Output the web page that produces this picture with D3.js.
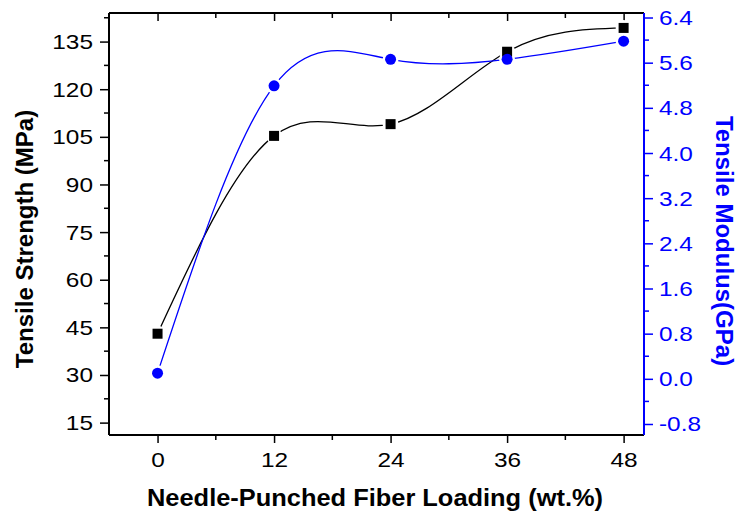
<!DOCTYPE html>
<html>
<head>
<meta charset="utf-8">
<script src="https://cdn.jsdelivr.net/npm/d3@7"></script>
<style>
body { margin: 0; background: #fff; }
svg { display: block; font-family: "Liberation Sans", Arial, sans-serif; }
</style>
</head>
<body>
<div id="chart"></div>
<script>
// fiber loading (wt.%)
var loading = [0, 12, 24, 36, 48];
// tensile strength (MPa), left axis
var strength = [43, 105.3, 109, 131.8, 139.3];
// tensile modulus (GPa), right axis
var modulus = [0.1, 5.19, 5.66, 5.66, 5.98];

var xTicks = [0, 12, 24, 36, 48];
var yLeftTicks = [15, 30, 45, 60, 75, 90, 105, 120, 135];
var yRightTicks = [-0.8, 0.0, 0.8, 1.6, 2.4, 3.2, 4.0, 4.8, 5.6, 6.4];

function init() {
    var W = 739, H = 511;
    var left = 109, right = 644, top = 13, bottom = 435;
    var stretch = 1.22; // tick labels look a bit wide in the original

    var svg = d3.select("#chart").append("svg")
        .attr("width", W)
        .attr("height", H);

    var x = d3.scaleLinear().domain([-5, 50.1]).range([left, right]);
    var yL = d3.scaleLinear().domain([11.1, 144]).range([bottom, top]);
    var yR = d3.scaleLinear().domain([-0.995, 6.48]).range([bottom, top]);

    var blue = "#0000ff";

    // minor tick positions
    var xMinor = [6, 18, 30, 42];
    var yLMinor = d3.range(22.5, 144, 15);
    var yRMinor = [-0.4, 0.4, 1.2, 2.0, 2.8, 3.6, 4.4, 5.2, 6.0];

    // bottom axis
    var gx = svg.append("g").attr("transform", "translate(0," + bottom + ")");
    gx.call(d3.axisBottom(x).tickValues(xTicks).tickSize(8)
        .tickFormat(d3.format("d")));
    gx.append("g").selectAll("line").data(xMinor).enter().append("line")
        .attr("x1", function(d){ return x(d); }).attr("x2", function(d){ return x(d); })
        .attr("y1", 0).attr("y2", 5).attr("stroke", "#000").attr("stroke-width", 1.5);

    // top axis (mirror, ticks inward)
    var gt = svg.append("g").attr("transform", "translate(0," + top + ")");
    gt.call(d3.axisBottom(x).tickValues(xTicks).tickSize(8).tickFormat(""));
    gt.append("g").selectAll("line").data(xMinor).enter().append("line")
        .attr("x1", function(d){ return x(d); }).attr("x2", function(d){ return x(d); })
        .attr("y1", 0).attr("y2", 5).attr("stroke", "#000").attr("stroke-width", 1.5);

    // left axis
    var gl = svg.append("g").attr("transform", "translate(" + left + ",0)");
    gl.call(d3.axisLeft(yL).tickValues(yLeftTicks).tickSize(9)
        .tickFormat(d3.format("d")));
    gl.append("g").selectAll("line").data(yLMinor).enter().append("line")
        .attr("y1", function(d){ return yL(d); }).attr("y2", function(d){ return yL(d); })
        .attr("x1", 0).attr("x2", -5).attr("stroke", "#000").attr("stroke-width", 1.5);

    // right axis (blue)
    var gr = svg.append("g").attr("transform", "translate(" + right + ",0)");
    gr.call(d3.axisRight(yR).tickValues(yRightTicks).tickSize(9)
        .tickFormat(function(d){ return d3.format(".1f")(d).replace("\u2212", "-"); }));
    gr.append("g").selectAll("line").data(yRMinor).enter().append("line")
        .attr("y1", function(d){ return yR(d); }).attr("y2", function(d){ return yR(d); })
        .attr("x1", 0).attr("x2", 5).attr("stroke", blue).attr("stroke-width", 1.5);

    svg.selectAll(".domain").attr("stroke-width", 2).attr("stroke", "#000");
    svg.selectAll(".tick line").attr("stroke-width", 1.5);
    svg.selectAll(".tick text").attr("font-size", 20).attr("fill", "#000")
        .attr("font-family", "Liberation Sans, Arial, sans-serif")
        .attr("x", 0).attr("y", 0);
    gx.selectAll(".tick text").attr("dy", 0)
        .attr("transform", "translate(0,32) scale(" + stretch + ",1)");
    gl.selectAll(".tick text").attr("dy", "0.35em")
        .attr("transform", "translate(-16,0) scale(" + stretch + ",1)");
    gr.selectAll(".tick text").attr("dy", "0.35em")
        .attr("transform", "translate(15,0) scale(" + stretch + ",1)");

    gx.select(".domain").attr("d", "M" + left + ",0H" + right);
    gt.select(".domain").attr("d", "M" + left + ",0H" + right);
    gl.select(".domain").attr("d", "M0," + top + "V" + bottom);
    gr.select(".domain").attr("d", "M0," + top + "V" + bottom).attr("stroke", blue);
    gr.selectAll(".tick line").attr("stroke", blue);
    gr.selectAll(".tick text").attr("fill", blue);

    // series
    var lineS = d3.line()
        .x(function(d, i){ return x(loading[i]); })
        .y(function(d){ return yL(d); })
        .curve(d3.curveNatural);
    var lineM = d3.line()
        .x(function(d, i){ return x(loading[i]); })
        .y(function(d){ return yR(d); })
        .curve(d3.curveNatural);

    svg.append("path").datum(strength).attr("d", lineS)
        .attr("fill", "none").attr("stroke", "#000").attr("stroke-width", 1.3);
    svg.selectAll(".haloS").data(strength).enter().append("circle")
        .attr("cx", function(d, i){ return x(loading[i]); })
        .attr("cy", function(d){ return yL(d); })
        .attr("r", 8).attr("fill", "#fff");

    svg.append("path").datum(modulus).attr("d", lineM)
        .attr("fill", "none").attr("stroke", blue).attr("stroke-width", 1.3);
    svg.selectAll(".haloM").data(modulus).enter().append("circle")
        .attr("cx", function(d, i){ return x(loading[i]); })
        .attr("cy", function(d){ return yR(d); })
        .attr("r", 8).attr("fill", "#fff");

    svg.selectAll(".sq").data(strength).enter().append("rect")
        .attr("x", function(d, i){ return x(loading[i]) - 5; })
        .attr("y", function(d){ return yL(d) - 5; })
        .attr("width", 10).attr("height", 10).attr("fill", "#000");
    svg.selectAll(".dot").data(modulus).enter().append("circle")
        .attr("cx", function(d, i){ return x(loading[i]); })
        .attr("cy", function(d){ return yR(d); })
        .attr("r", 5.5).attr("fill", blue);

    // titles
    svg.append("text")
        .attr("transform", "translate(33,239) rotate(-90)")
        .attr("text-anchor", "middle").attr("font-size", 24).attr("font-weight", "bold")
        .text("Tensile Strength (MPa)");
    svg.append("text")
        .attr("transform", "translate(716,241) rotate(90)")
        .attr("text-anchor", "middle").attr("font-size", 24).attr("font-weight", "bold")
        .attr("fill", blue)
        .text("Tensile Modulus(GPa)");
    svg.append("text")
        .attr("x", 375).attr("y", 506)
        .attr("text-anchor", "middle").attr("font-size", 24).attr("font-weight", "bold")
        .attr("textLength", 456).attr("lengthAdjust", "spacingAndGlyphs")
        .text("Needle-Punched Fiber Loading (wt.%)");
}

window.onload = init;
</script>
</body>
</html>
